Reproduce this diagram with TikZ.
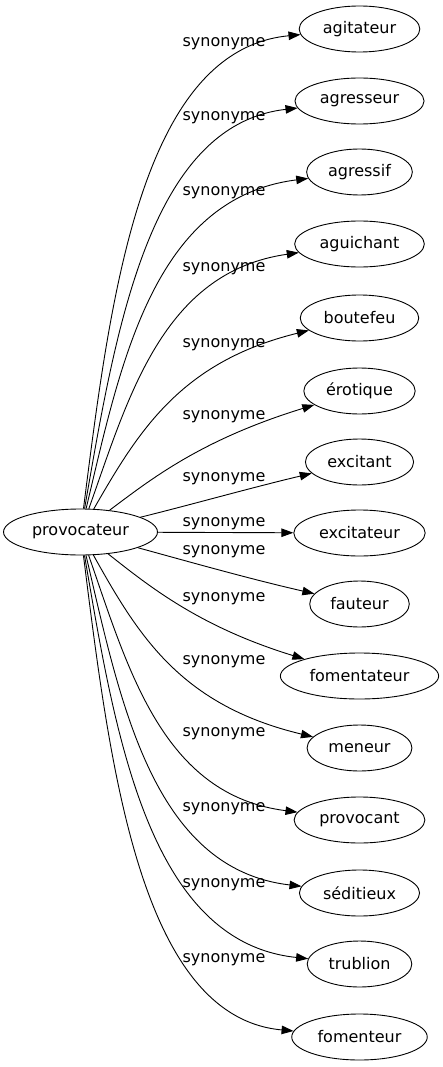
\documentclass[tikz,border=0pt]{standalone}
\usepackage{fontspec}
\setmainfont{DejaVu Sans}
\usetikzlibrary{shapes.geometric,arrows.meta}

\begin{document}
\begin{tikzpicture}[x=1pt, y=-1pt, font=\fontsize{16pt}{19pt}\selectfont,
  word/.style={draw, ellipse, line width=0.9pt, inner xsep=6pt, inner ysep=2pt, minimum height=46pt},
  rel/.style={inner sep=0pt},
  edge/.style={draw, line width=0.9pt, -{Triangle[length=12pt,width=8.5pt]}}]
  \useasboundingbox (0,0) rectangle (442,1067);

  %%% source word %%%
  \node[word] (provocateur) at (80.5,532) {provocateur};

  %%% synonyms %%%
  % above
  \node[word] (agitateur) at (359.5,29) {agitateur};
  \node[word] (agresseur) at (359.5,101) {agresseur};
  \node[word] (agressif) at (359.5,172) {agressif};
  \node[word] (aguichant) at (359.5,244) {aguichant};
  \node[word] (boutefeu) at (359.5,318) {boutefeu};
  \node[word] (erotique) at (359.5,391) {érotique};
  \node[word] (excitant) at (359.5,462) {excitant};
  % middle
  \node[word] (excitateur) at (359.5,533) {excitateur};
  % below
  \node[word] (fauteur) at (359.5,604) {fauteur};
  \node[word] (fomentateur) at (359.5,676) {fomentateur};
  \node[word] (meneur) at (359.5,748) {meneur};
  \node[word] (provocant) at (359.5,820) {provocant};
  \node[word] (seditieux) at (359.5,893) {séditieux};
  \node[word] (trublion) at (359.5,964) {trublion};
  \node[word] (fomenteur) at (359.5,1037) {fomenteur};

  %%% edge labels %%%
  \node[rel] (s1) at (224,44) {synonyme};
  \node[rel] (s2) at (224,118) {synonyme};
  \node[rel] (s3) at (224,193) {synonyme};
  \node[rel] (s4) at (224,269) {synonyme};
  \node[rel] (s5) at (224,345) {synonyme};
  \node[rel] (s6) at (224,417) {synonyme};
  \node[rel] (s7) at (224,479) {synonyme};
  \node[rel] (s8) at (224,524) {synonyme};
  \node[rel] (s9) at (224,552) {synonyme};
  \node[rel] (s10) at (224,599) {synonyme};
  \node[rel] (s11) at (224,662) {synonyme};
  \node[rel] (s12) at (224,734) {synonyme};
  \node[rel] (s13) at (224,809) {synonyme};
  \node[rel] (s14) at (224,885) {synonyme};
  \node[rel] (s15) at (224,960) {synonyme};

  %%% edges %%%
  % upwards
  \draw[edge] (provocateur) .. controls (110,300) and (140,50) .. (agitateur);
  \draw[edge] (provocateur) .. controls (115,334) and (148,125) .. (agresseur);
  \draw[edge] (provocateur) .. controls (120,367) and (152,198) .. (agressif);
  \draw[edge] (provocateur) .. controls (128,399) and (162,272) .. (aguichant);
  \draw[edge] (provocateur) .. controls (138,432) and (180,362) .. (boutefeu);
  \draw[edge] (provocateur) .. controls (150,480) and (200,440) .. (erotique);
  \draw[edge] (provocateur) .. controls (190,505) and (250,488) .. (excitant);
  % straight
  \draw[edge] (provocateur) -- (excitateur);
  % downwards
  \draw[edge] (provocateur) .. controls (190,562) and (250,579) .. (fauteur);
  \draw[edge] (provocateur) .. controls (150,587) and (200,627) .. (fomentateur);
  \draw[edge] (provocateur) .. controls (138,635) and (180,705) .. (meneur);
  \draw[edge] (provocateur) .. controls (128,668) and (162,795) .. (provocant);
  \draw[edge] (provocateur) .. controls (120,700) and (152,869) .. (seditieux);
  \draw[edge] (provocateur) .. controls (115,733) and (148,942) .. (trublion);
  \draw[edge] (provocateur) .. controls (110,767) and (140,1017) .. (fomenteur);
\end{tikzpicture}
\end{document}
